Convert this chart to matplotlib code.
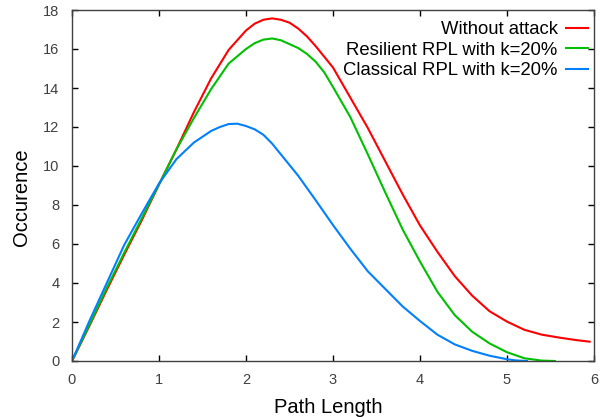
import matplotlib
matplotlib.use('Agg')
import matplotlib.pyplot as plt

# path length values and occurrence for each scenario
x_red = [0, 0.2, 0.4, 0.6, 0.8, 1.0, 1.2, 1.4, 1.6, 1.8, 2.0, 2.1, 2.2, 2.3, 2.4, 2.5, 2.6, 2.7,
         2.8, 2.9, 3.0, 3.2, 3.4, 3.6, 3.8, 4.0, 4.2, 4.4, 4.6, 4.8, 5.0, 5.2, 5.4, 5.6, 5.8, 5.95]
y_red = [0, 1.8, 3.65, 5.45, 7.2, 9.05, 10.85, 12.75, 14.5, 15.95, 16.95, 17.3, 17.5, 17.57, 17.5,
         17.35, 17.05, 16.65, 16.15, 15.6, 15.05, 13.5, 11.95, 10.25, 8.55, 6.95, 5.6, 4.35, 3.35,
         2.55, 2.02, 1.6, 1.35, 1.2, 1.07, 0.99]

x_green = [0, 0.2, 0.4, 0.6, 0.8, 1.0, 1.2, 1.4, 1.6, 1.8, 2.0, 2.1, 2.2, 2.3, 2.4, 2.5, 2.6, 2.7,
           2.8, 2.9, 3.0, 3.2, 3.4, 3.6, 3.8, 4.0, 4.2, 4.4, 4.6, 4.8, 5.0, 5.2, 5.4, 5.55]
y_green = [0, 1.85, 3.75, 5.55, 7.3, 9.05, 10.85, 12.45, 13.95, 15.25, 16.0, 16.3, 16.48, 16.54,
           16.45, 16.25, 16.05, 15.75, 15.35, 14.8, 14.05, 12.5, 10.6, 8.65, 6.75, 5.1, 3.55, 2.35,
           1.5, 0.9, 0.45, 0.14, 0.02, 0.0]

x_blue = [0, 0.2, 0.4, 0.6, 0.8, 1.0, 1.2, 1.4, 1.6, 1.7, 1.8, 1.9, 2.0, 2.1, 2.2, 2.3, 2.4,
          2.6, 2.8, 3.0, 3.2, 3.4, 3.6, 3.8, 4.0, 4.2, 4.4, 4.6, 4.8, 5.0, 5.1, 5.23]
y_blue = [0, 2.05, 4.0, 5.95, 7.55, 9.1, 10.35, 11.2, 11.8, 12.0, 12.15, 12.17, 12.05, 11.88,
          11.6, 11.15, 10.6, 9.5, 8.25, 6.97, 5.75, 4.6, 3.7, 2.8, 2.05, 1.35, 0.85, 0.52, 0.27,
          0.09, 0.03, 0.0]

labels = ['Without attack', 'Resilient RPL with k=20%', 'Classical RPL with k=20%']
colors = ['#ff0000', '#00c000', '#0080ff']

plt.rcParams['font.family'] = ['Liberation Sans', 'DejaVu Sans']

fig = plt.figure(figsize=(6.11, 4.17), dpi=100)
ax = fig.add_axes([72 / 611, 1 - 361 / 417, 522 / 611, 351 / 417])

series = [(x_red, y_red), (x_green, y_green), (x_blue, y_blue)]
for (xs, ys), lab, col in zip(series, labels, colors):
    ax.plot(xs, ys, color=col, lw=1.5, label=lab)

ax.set_xlim(0, 6)
ax.set_ylim(0, 18)
ax.set_xticks(range(0, 7))
ax.set_yticks(range(0, 19, 2))
ax.tick_params(direction='in', top=True, right=True, length=4, width=1,
               labelsize=10.5, labelcolor='#404040', pad=9)
for sp in ax.spines.values():
    sp.set_color('#404040')
    sp.set_linewidth(1)

ax.set_xlabel('Path Length', fontsize=14.5)
ax.set_ylabel('Occurence', fontsize=14.5)
ax.xaxis.set_label_coords(0.49, -0.105)
ax.yaxis.set_label_coords(-0.078, 0.466)

leg = ax.legend(loc='upper right', bbox_to_anchor=(1 - 6 / 522, 1 - 11 / 351),
                frameon=False, markerfirst=False, fontsize=13.3,
                handlelength=1.2, handletextpad=0.45, labelspacing=0.2,
                borderpad=0, borderaxespad=0)

fig.savefig('out.png', dpi=100)
